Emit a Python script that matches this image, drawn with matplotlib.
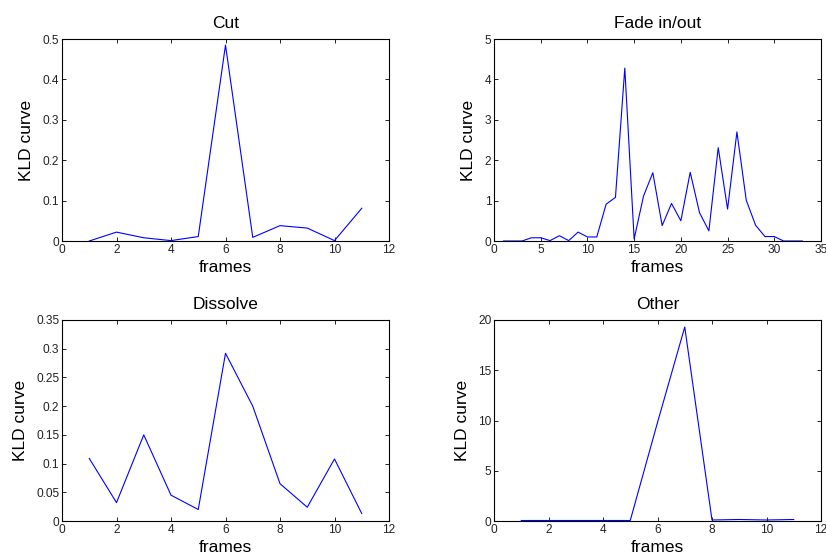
import matplotlib
matplotlib.use("Agg")
import matplotlib.pyplot as plt

plt.rcParams['font.family'] = ['Liberation Sans', 'DejaVu Sans']

# KLD curves per transition type
cut_frames = list(range(1, 12))
cut_kld = [0.0, 0.022, 0.008, 0.001, 0.011, 0.485, 0.009, 0.038, 0.032, 0.001, 0.081]

fade_frames = list(range(1, 34))
fade_kld = [0.0, 0.0, 0.0, 0.08, 0.08, 0.01, 0.13, 0.01, 0.22, 0.10, 0.10,
            0.91, 1.08, 4.28, 0.05, 1.11, 1.69, 0.38, 0.93, 0.50, 1.70, 0.70,
            0.25, 2.31, 0.79, 2.70, 1.01, 0.39, 0.11, 0.11, 0.0, 0.0, 0.0]

dissolve_frames = list(range(1, 12))
dissolve_kld = [0.109, 0.032, 0.150, 0.045, 0.020, 0.292, 0.200, 0.065, 0.024, 0.108, 0.013]

other_frames = list(range(1, 12))
other_kld = [0.05, 0.05, 0.05, 0.05, 0.05, 9.8, 19.3, 0.1, 0.15, 0.1, 0.15]

panels = [
    ("Cut", cut_frames, cut_kld, (0, 12), [0, 2, 4, 6, 8, 10, 12], (0, 0.5), [0, 0.1, 0.2, 0.3, 0.4, 0.5], ["0", "0.1", "0.2", "0.3", "0.4", "0.5"]),
    ("Fade in/out", fade_frames, fade_kld, (0, 35), [0, 5, 10, 15, 20, 25, 30, 35], (0, 5), [0, 1, 2, 3, 4, 5], None),
    ("Dissolve", dissolve_frames, dissolve_kld, (0, 12), [0, 2, 4, 6, 8, 10, 12], (0, 0.35), [0, 0.05, 0.1, 0.15, 0.2, 0.25, 0.3, 0.35], ["0", "0.05", "0.1", "0.15", "0.2", "0.25", "0.3", "0.35"]),
    ("Other", other_frames, other_kld, (0, 12), [0, 2, 4, 6, 8, 10, 12], (0, 20), [0, 5, 10, 15, 20], None),
]

W, H = 826, 557
fig = plt.figure(figsize=(W / 100, H / 100), dpi=100)

# axes boxes in pixels: left, top, right, bottom
boxes = [(62, 39, 389, 241), (494, 39, 821, 241),
         (62, 320, 389, 521), (494, 320, 821, 521)]

for (title, x, y, xl, xt, yl, yt, ytl), (l, t, r, b) in zip(panels, boxes):
    ax = fig.add_axes([l / W, 1 - b / H, (r - l) / W, (b - t) / H])
    ax.plot(x, y, color='#0000ff', linewidth=0.8)
    ax.set_xlim(*xl)
    ax.set_ylim(*yl)
    ax.set_xticks(xt)
    ax.set_yticks(yt)
    if ytl is not None:
        ax.set_yticklabels(ytl)
    ax.tick_params(direction='in', top=True, right=True, length=3, width=0.6,
                   labelsize=8.6, pad=2, labelcolor='#222222')
    for s in ax.spines.values():
        s.set_linewidth(0.8)
    ax.set_title(title, fontsize=12.5, pad=8)
    ax.set_xlabel("frames", fontsize=12.5, labelpad=3)
    ax.set_ylabel("KLD curve", fontsize=12.5, labelpad=6)

fig.savefig("out.png", dpi=100)
